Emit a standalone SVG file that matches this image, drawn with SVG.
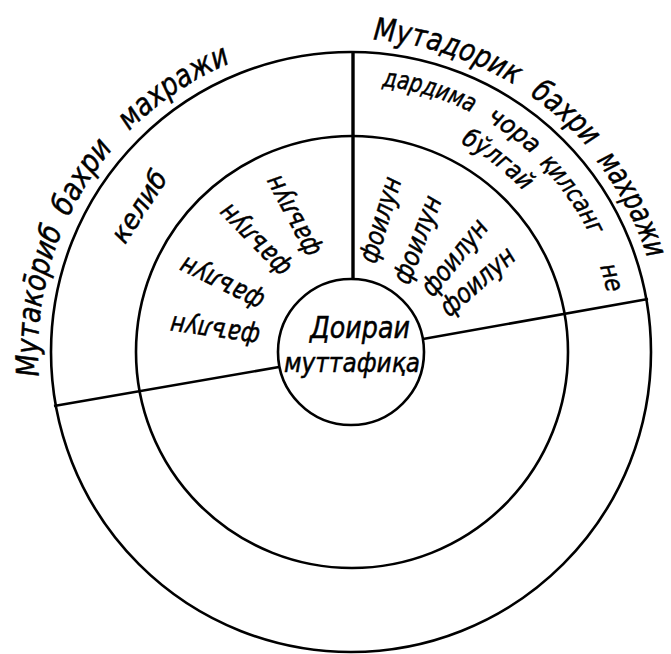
<svg xmlns="http://www.w3.org/2000/svg" width="671" height="654" viewBox="0 0 671 654">
<style>
.ln{fill:none;stroke:#000;stroke-width:2.6}
.t{font-family:'DejaVu Sans','Liberation Sans',sans-serif;font-style:italic;fill:#000;stroke:#000;stroke-width:0.5}
.o{font-size:31px}
.i{font-size:25px}
.r{font-size:27px}
</style>
<defs>
<path id="pOuter" d="M351,665 A313,313 0 1 1 351,39 A313,313 0 1 1 351,665"/>
<path id="pInner" d="M351,620 A268,268 0 1 1 351,84 A268,268 0 1 1 351,620"/>
<path id="pInner2" d="M351,588 A236,236 0 1 1 351,116 A236,236 0 1 1 351,588"/>
</defs>
<rect width="671" height="654" fill="#fff"/>
<g id="rings">
<circle class="ln" cx="351" cy="352" r="300"/>
<circle class="ln" cx="352" cy="352" r="216"/>
<circle class="ln" cx="351" cy="352" r="73"/>
</g>
<g id="connectors">
<line class="ln" x1="353" y1="52" x2="353" y2="279" style="stroke-width:3.4"/>
<line class="ln" x1="54" y1="406" x2="279" y2="367"/>
<line class="ln" x1="423" y1="339" x2="648" y2="299"/>
</g>
<g id="label-mutaqorib" class="t o">
<text><textPath href="#pOuter" startOffset="542" text-anchor="middle" textLength="150" lengthAdjust="spacingAndGlyphs">Мутако̄риб</textPath></text>
<text><textPath href="#pOuter" startOffset="672" text-anchor="middle" textLength="82" lengthAdjust="spacingAndGlyphs">бахри</textPath></text>
<text><textPath href="#pOuter" startOffset="798" text-anchor="middle" textLength="123" lengthAdjust="spacingAndGlyphs">махражи</textPath></text>
</g>
<g id="label-mutadorik" class="t o">
<text><textPath href="#pOuter" startOffset="1080" text-anchor="middle" textLength="150" lengthAdjust="spacingAndGlyphs">Мутадорик</textPath></text>
<text><textPath href="#pOuter" startOffset="1212" text-anchor="middle" textLength="78" lengthAdjust="spacingAndGlyphs">бахри</textPath></text>
<text><textPath href="#pOuter" startOffset="1323" text-anchor="middle" textLength="112" lengthAdjust="spacingAndGlyphs"><tspan dy="2">махражи</tspan></textPath></text>
</g>
<g id="verse" class="t i">
<text><textPath href="#pInner" startOffset="920" text-anchor="middle" textLength="94" lengthAdjust="spacingAndGlyphs">дардима</textPath></text>
<text><textPath href="#pInner" startOffset="1012" text-anchor="middle" textLength="57" lengthAdjust="spacingAndGlyphs">чора</textPath></text>
<text><textPath href="#pInner" startOffset="1097" text-anchor="middle" textLength="90" lengthAdjust="spacingAndGlyphs"><tspan dy="2">қилсанг</tspan></textPath></text>
<text><textPath href="#pInner" startOffset="1188" text-anchor="middle" textLength="28" lengthAdjust="spacingAndGlyphs"><tspan dy="5">не</tspan></textPath></text>
<text><textPath href="#pInner2" startOffset="895" text-anchor="middle" textLength="80" lengthAdjust="spacingAndGlyphs">бўлгай</textPath></text>
</g>
<g id="kelib" class="t r">
<text transform="translate(140,207) rotate(-57)" text-anchor="middle" dy="0.3em" textLength="80" lengthAdjust="spacingAndGlyphs">келиб</text>
</g>
<g id="faulun" class="t r">
<text transform="translate(215,330) rotate(188)" text-anchor="middle" dy="0.3em" textLength="90" lengthAdjust="spacingAndGlyphs">фаълун</text>
<text transform="translate(222,283) rotate(206)" text-anchor="middle" dy="0.3em" textLength="90" lengthAdjust="spacingAndGlyphs">фаълун</text>
<text transform="translate(255,240) rotate(226)" text-anchor="middle" dy="0.3em" textLength="90" lengthAdjust="spacingAndGlyphs">фаълун</text>
<text transform="translate(293,216) rotate(242)" text-anchor="middle" dy="0.3em" textLength="88" lengthAdjust="spacingAndGlyphs">фаълун</text>
</g>
<g id="foilun" class="t r">
<text transform="translate(381,220) rotate(-73)" text-anchor="middle" dy="0.3em" textLength="88" lengthAdjust="spacingAndGlyphs">фоилун</text>
<text transform="translate(418,240) rotate(-69)" text-anchor="middle" dy="0.3em" textLength="92" lengthAdjust="spacingAndGlyphs">фоилун</text>
<text transform="translate(455,258) rotate(-51)" text-anchor="middle" dy="0.3em" textLength="90" lengthAdjust="spacingAndGlyphs">фоилун</text>
<text transform="translate(478,282) rotate(-41)" text-anchor="middle" dy="0.3em" textLength="90" lengthAdjust="spacingAndGlyphs">фоилун</text>
</g>
<g id="center" class="t">
<text x="360" y="338" text-anchor="middle" font-size="30" textLength="100" lengthAdjust="spacingAndGlyphs">Доираи</text>
<text x="352" y="372" text-anchor="middle" font-size="27" textLength="136" lengthAdjust="spacingAndGlyphs">муттафиқа</text>
</g>
</svg>
